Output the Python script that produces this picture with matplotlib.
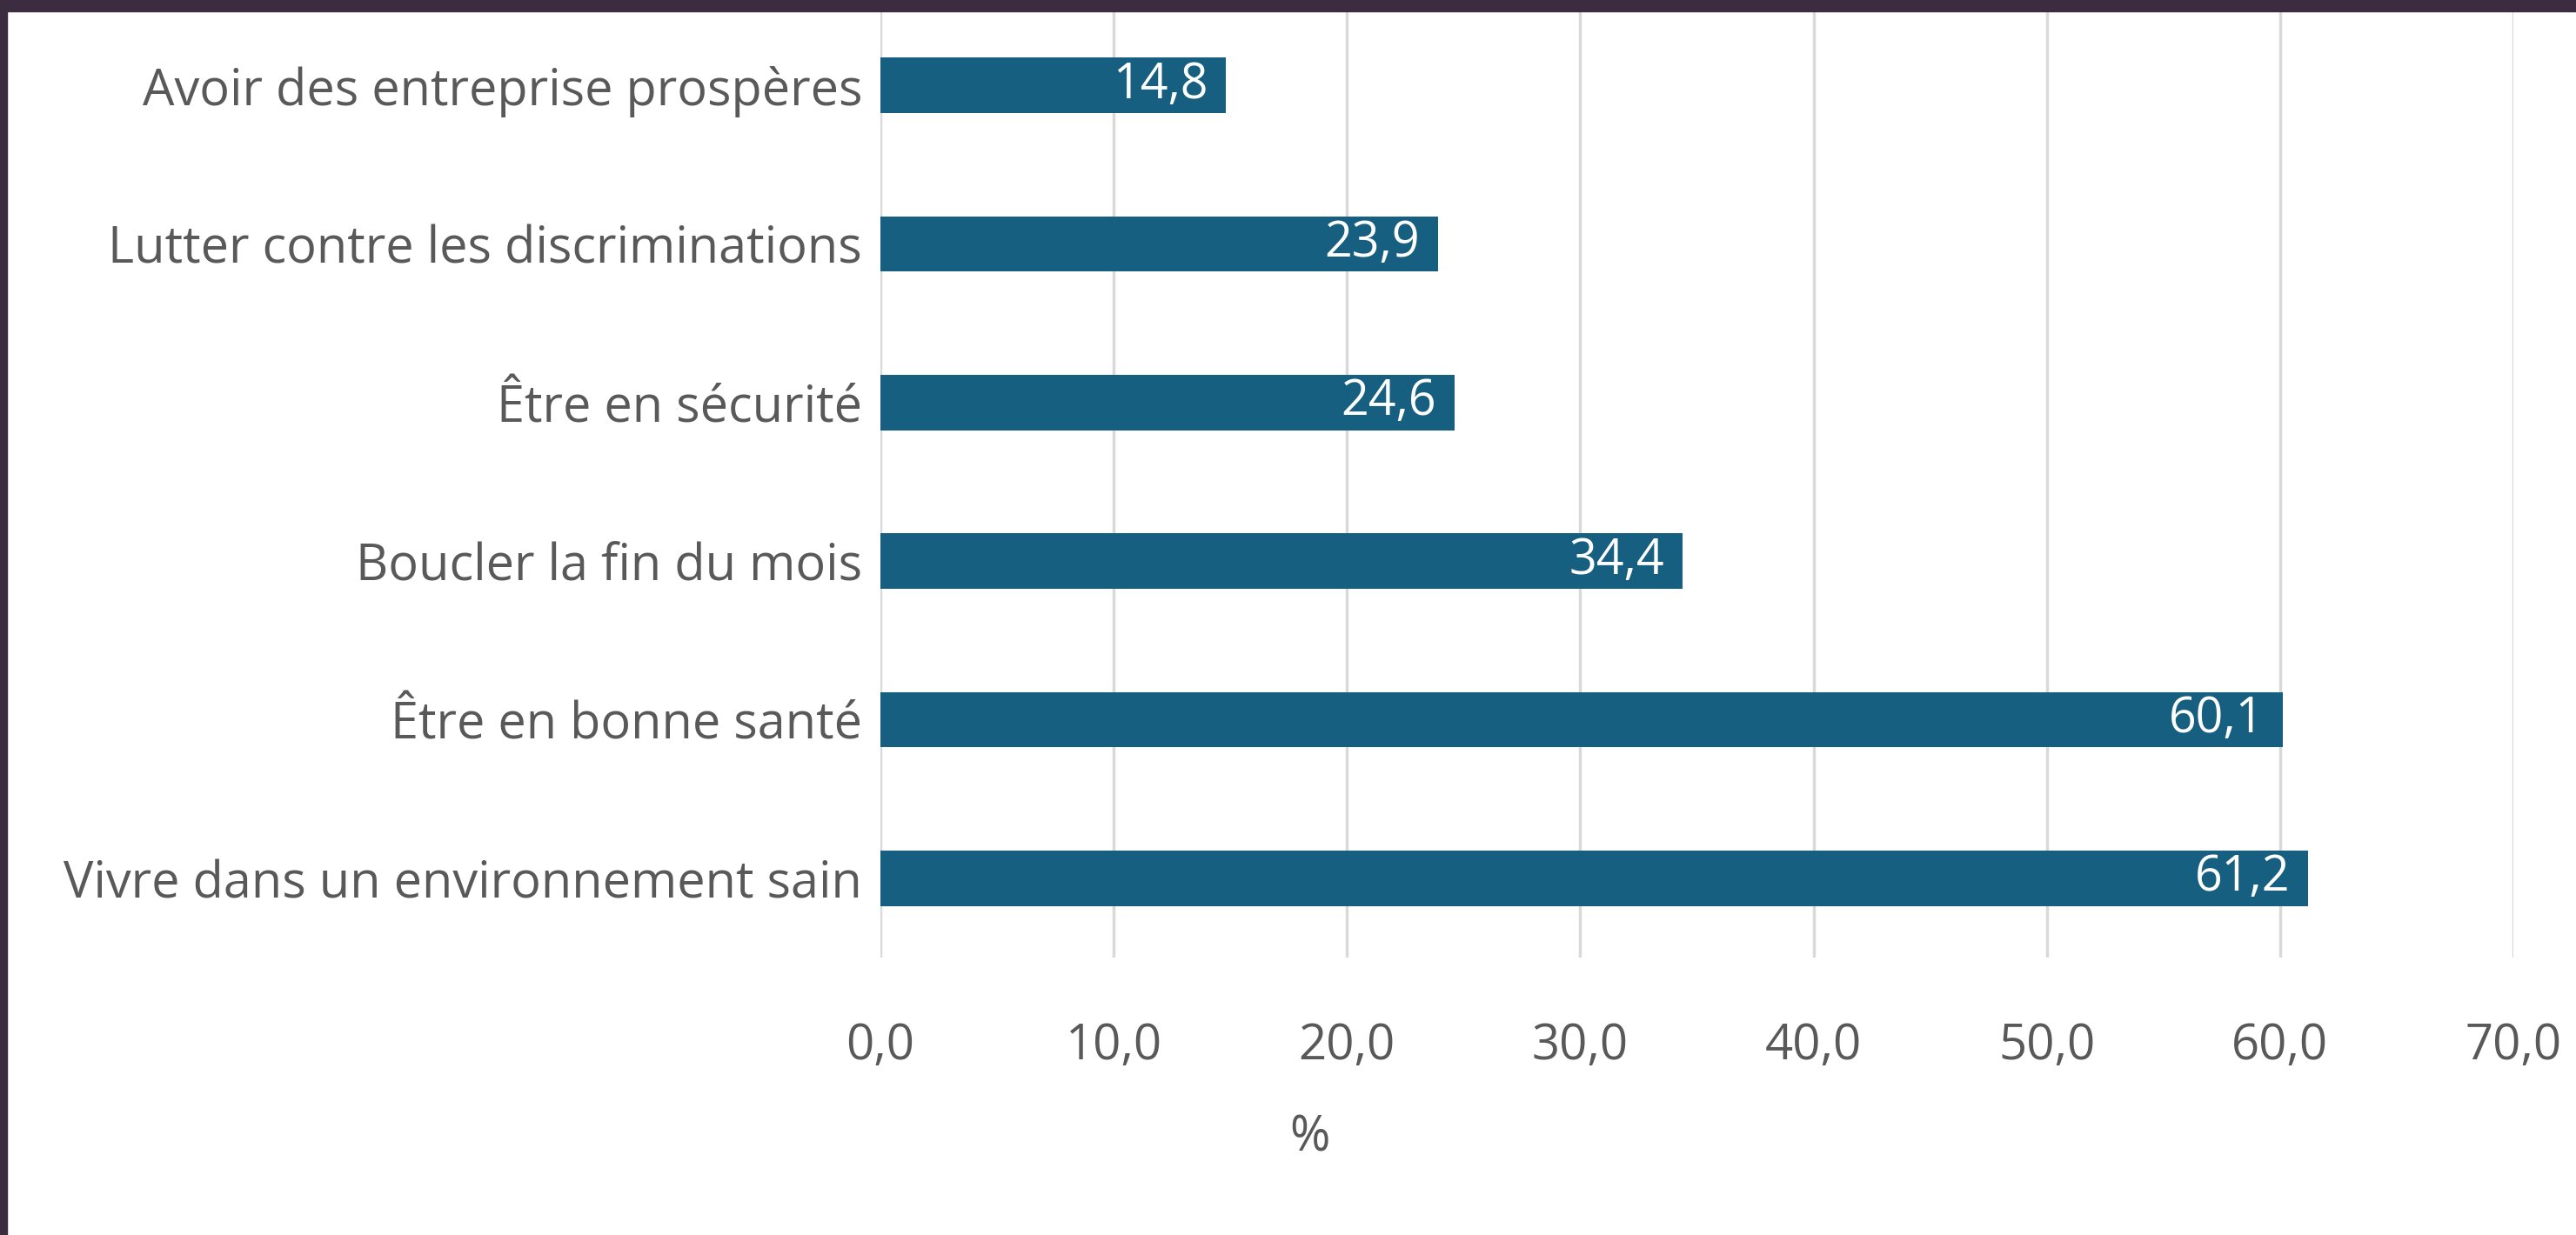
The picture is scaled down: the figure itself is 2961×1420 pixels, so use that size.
import matplotlib
matplotlib.use("Agg")
import matplotlib.pyplot as plt
from matplotlib.patches import Rectangle

# data, top to bottom as in the chart
categories = [
    "Avoir des entreprise prospères",
    "Lutter contre les discriminations",
    "Être en sécurité",
    "Boucler la fin du mois",
    "Être en bonne santé",
    "Vivre dans un environnement sain",
]
values = [14.8, 23.9, 24.6, 34.4, 60.1, 61.2]
xticks = [0, 10, 20, 30, 40, 50, 60, 70]

BAR = "#175f80"
TXT = "#595959"
GRID = "#d9d9d9"
FRAME = "#3b2c3f"

plt.rcParams["font.family"] = ["Open Sans", "DejaVu Sans"]

W, H, DPI = 2961, 1420, 100
fig = plt.figure(figsize=(W / DPI, H / DPI), dpi=DPI)
fig.patch.set_facecolor("white")

ax = fig.add_axes([1012 / W, 1 - 1101 / H, (2889 - 1012) / W, (1101 - 7) / H])
ypos = list(range(len(categories)))[::-1]
ax.barh(ypos, values, height=0.35, color=BAR, zorder=3)
ax.set_ylim(-0.5, len(categories) - 0.5)
ax.set_xlim(0, 70)

for y, v in zip(ypos, values):
    ax.annotate(f"{v:.1f}".replace(".", ","), (v, y), xytext=(-15, 0),
                textcoords="offset points", ha="right", va="center",
                color="white", fontsize=40, zorder=4)

ax.set_yticks(ypos)
ax.set_yticklabels(categories)
ax.set_xticks(xticks)
ax.set_xticklabels([f"{t:.1f}".replace(".", ",") for t in xticks])
ax.tick_params(axis="y", length=0, pad=15, labelsize=41.5, labelcolor=TXT)
ax.tick_params(axis="x", length=0, pad=53, labelsize=40.5, labelcolor=TXT)
ax.grid(axis="x", color=GRID, linewidth=2.5, zorder=0)
ax.grid(axis="y", visible=False)
for s in ax.spines.values():
    s.set_visible(False)

fig.text(1505 / W, 1 - 1309 / H, "%", ha="center", va="center",
         color=TXT, fontsize=40.5)

# dark frame on top and left edges
fig.patches.append(Rectangle((0, 1 - 13 / H), 1, 13 / H, transform=fig.transFigure,
                             color=FRAME, zorder=10))
fig.patches.append(Rectangle((0, 0), 8 / W, 1, transform=fig.transFigure,
                             color=FRAME, zorder=10))

fig.savefig("out.png", dpi=DPI)
